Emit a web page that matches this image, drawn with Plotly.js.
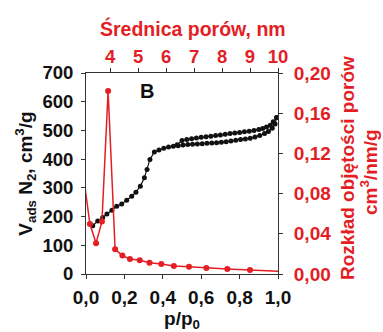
<!DOCTYPE html>
<html><head><meta charset="utf-8">
<script src="https://cdn.plot.ly/plotly-3.0.1.min.js"></script>
<style>html,body{margin:0;padding:0;background:#fff}#c{width:383px;height:332px}</style>
</head><body><div id="c"></div>
<script>
// Isotherm (adsorption branch)
const adsP = [0.035,0.061,0.087,0.109,0.135,0.16,0.186,0.212,0.238,0.26,0.283,0.304,0.318,0.333,0.356,0.38,0.405,0.43,0.455,0.48,0.505,0.53,0.555,0.58,0.605,0.63,0.655,0.68,0.705,0.73,0.755,0.78,0.805,0.83,0.855,0.88,0.905,0.93,0.95,0.97,0.985,0.993];
const adsV = [168,185,197,209,222,236,244,257,271,285,306,335,364,399,425,432,438,442,445,447,449,451,452,453,454,455,456,457,459,461,463,466,468,470,473,477,482,489,496,508,522,545];
// Desorption branch
const desP = [0.993,0.975,0.96,0.94,0.92,0.9,0.875,0.85,0.825,0.8,0.775,0.75,0.725,0.7,0.675,0.65,0.625,0.6,0.575,0.55,0.525,0.5,0.475];
const desV = [545,530,518,512,507,503,500,497,495,493,491,489,487,484,482,480,478,476,474,471,468,465,450];
// Pore size distribution
const poreD = [2.95,3.28,3.5,3.71,3.93,4.18,4.44,4.71,5.06,5.41,5.83,6.28,6.82,7.44,8.19,9.0,10.3];
const poreV = [0.118,0.0497,0.0307,0.0523,0.182,0.0247,0.0183,0.015,0.0137,0.0113,0.010,0.008,0.0073,0.006,0.005,0.004,0.0025];

const RED = '#e31e24';
const FF = 'Liberation Sans, Arial, sans-serif';
const fB = (size,color)=>({family:FF,size:size,color:color,weight:'bold'});

const traces = [
  {x:adsP,y:adsV,type:'scatter',mode:'lines+markers',line:{color:'#111',width:1.2},marker:{color:'#111',size:5},xaxis:'x',yaxis:'y',cliponaxis:true},
  {x:desP,y:desV,type:'scatter',mode:'lines+markers',line:{color:'#111',width:1.2},marker:{color:'#111',size:5},xaxis:'x',yaxis:'y',cliponaxis:true},
  {x:poreD,y:poreV,type:'scatter',mode:'lines+markers',line:{color:RED,width:1.5},marker:{color:RED,size:6},xaxis:'x2',yaxis:'y2',cliponaxis:true}
];
const layout = {
  width:383,height:332,margin:{l:86,r:105,t:73,b:58},
  paper_bgcolor:'#fff',plot_bgcolor:'#fff',showlegend:false,separators:',.',
  xaxis:{range:[0,1],dtick:0.2,tickformat:'.1f',ticks:'outside',ticklen:4,tickcolor:'#333',showline:true,linecolor:'#333',linewidth:1,showgrid:false,zeroline:false,
    tickfont:fB(19,'#111'),ticklabelstandoff:2,title:{text:'p/p<sub>0</sub>',font:fB(19,'#111'),standoff:3}},
  yaxis:{range:[0,700],dtick:100,ticks:'outside',ticklen:4,tickcolor:'#333',showline:true,linecolor:'#333',showgrid:false,zeroline:false,
    tickfont:fB(18.5,'#111'),ticklabelstandoff:4,title:{text:'V<sub>ads</sub> N<sub>2</sub>, cm<sup>3</sup>/g',font:fB(19,'#111'),standoff:4}},
  xaxis2:{overlaying:'x',side:'top',anchor:'y2',range:[3.14,10],dtick:1,ticks:'outside',ticklen:4,tickcolor:'#333',showline:true,linecolor:'#333',showgrid:false,zeroline:false,
    tickfont:fB(18.5,RED),ticklabelstandoff:-2},
  yaxis2:{overlaying:'y',side:'right',range:[0,0.2],dtick:0.04,tickformat:'.2f',ticks:'outside',ticklen:4,tickcolor:'#333',showline:true,linecolor:'#333',showgrid:false,zeroline:false,
    tickfont:fB(19,RED),ticklabelstandoff:7},
  annotations:[
    {text:'B',x:0.318,y:0.91,xref:'paper',yref:'paper',xanchor:'center',yanchor:'middle',showarrow:false,font:fB(20,'#111')},
    {text:'Średnica porów, nm',x:193,y:28,showarrow:false,font:fB(19.5,RED)},
    {text:'Rozkład objętości porów',x:347,y:168,textangle:-90,showarrow:false,font:fB(19,RED)},
    {text:'cm<sup>3</sup>/nm/g',x:369,y:172,textangle:-90,showarrow:false,font:fB(19,RED)}
  ]
};
// convert pixel-placed title annotations to paper coordinates
const W=383,H=332,m=layout.margin,pw=W-m.l-m.r,ph=H-m.t-m.b;
layout.annotations.slice(1).forEach(a=>{a.xref='paper';a.yref='paper';a.x=(a.x-m.l)/pw;a.y=(H-m.b-a.y)/ph;a.xanchor='center';a.yanchor='middle';});
Plotly.newPlot('c',traces,layout,{displayModeBar:false,staticPlot:true});
</script></body></html>
